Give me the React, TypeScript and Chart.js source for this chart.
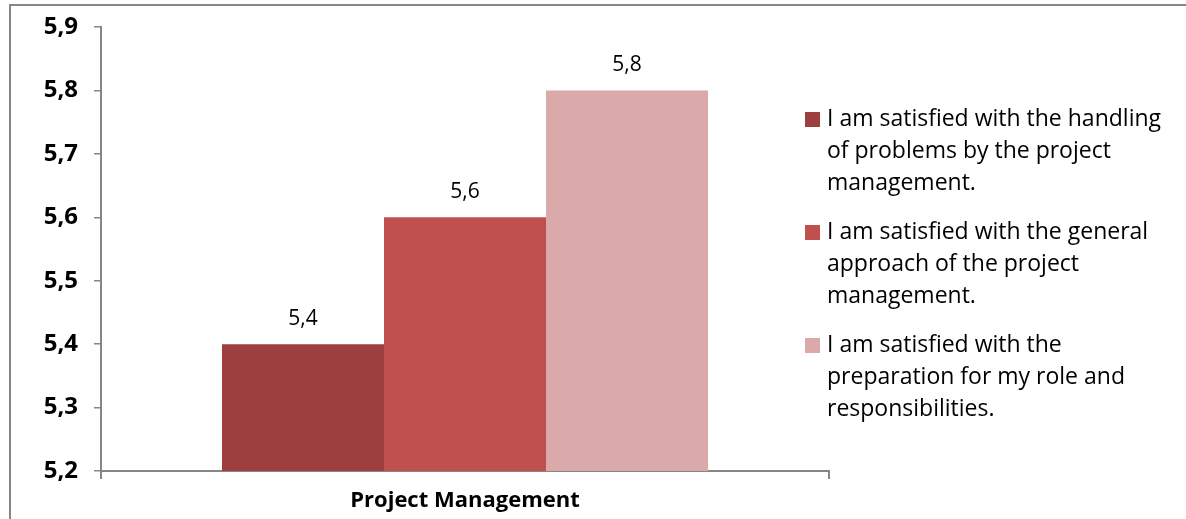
import React, { useEffect, useRef } from "react";
import { Chart, registerables } from "chart.js";

Chart.register(...registerables);

const categories = ["Project Management"];
const seriesLabels = [
  "I am satisfied with the handling of problems by the project management.",
  "I am satisfied with the general approach of the project management.",
  "I am satisfied with the preparation for my role and responsibilities.",
];
const legendLines = [
  ["I am satisfied with the handling", "of problems by the project", "management."],
  ["I am satisfied with the general", "approach of the project", "management."],
  ["I am satisfied with the", "preparation for my role and", "responsibilities."],
];
const seriesValues = [[5.4], [5.6], [5.8]];
const seriesColors = ["#9E3F3F", "#C0504D", "#DAAAAB"];
const yTicks = [5.2, 5.3, 5.4, 5.5, 5.6, 5.7, 5.8, 5.9];

const FONT = "'Open Sans', 'Noto Sans', sans-serif";
const fmt = (v: number) => v.toFixed(1).replace(".", ",");

const framePlugin = {
  id: "frame",
  beforeDraw(chart: any) {
    const ctx = chart.ctx;
    ctx.save();
    ctx.fillStyle = "#ffffff";
    ctx.fillRect(0, 0, chart.width, chart.height);
    ctx.strokeStyle = "#868686";
    ctx.lineWidth = 2;
    ctx.beginPath();
    ctx.moveTo(10, chart.height + 10);
    ctx.lineTo(10, 5);
    ctx.lineTo(chart.width + 10, 5);
    ctx.stroke();
    ctx.restore();
  },
};

const valueLabelPlugin = {
  id: "valueLabels",
  afterDatasetsDraw(chart: any) {
    const ctx = chart.ctx;
    ctx.save();
    ctx.font = `21px ${FONT}`;
    ctx.fillStyle = "#000000";
    ctx.textAlign = "center";
    ctx.textBaseline = "middle";
    chart.data.datasets.forEach((ds: any, i: number) => {
      const meta = chart.getDatasetMeta(i);
      meta.data.forEach((bar: any, j: number) => {
        ctx.fillText(fmt(ds.data[j]), bar.x, bar.y - 25);
      });
    });
    ctx.restore();
  },
};

const legendPlugin = {
  id: "wrapLegend",
  afterDraw(chart: any) {
    const ctx = chart.ctx;
    ctx.save();
    ctx.font = `23px ${FONT}`;
    ctx.textBaseline = "middle";
    ctx.textAlign = "left";
    const x0 = 805;
    const yStart = 119;
    const groupGap = 113;
    const lineH = 32;
    chart.data.datasets.forEach((ds: any, i: number) => {
      const y = yStart + i * groupGap;
      ctx.fillStyle = ds.backgroundColor;
      ctx.fillRect(x0, y - 7, 15, 15);
      ctx.fillStyle = "#000000";
      legendLines[i].forEach((line, k) => {
        ctx.fillText(line, x0 + 22, y + k * lineH);
      });
    });
    ctx.restore();
  },
};

export default function App() {
  const ref = useRef<HTMLCanvasElement | null>(null);
  useEffect(() => {
    if (!ref.current) return;
    const chart = new Chart(ref.current, {
      type: "bar",
      data: {
        labels: categories,
        datasets: seriesValues.map((vals, i) => ({
          label: seriesLabels[i],
          data: vals,
          backgroundColor: seriesColors[i],
          borderWidth: 0,
          categoryPercentage: 486 / 728,
          barPercentage: 1,
        })),
      },
      options: {
        responsive: false,
        animation: false,
        layout: { autoPadding: false, padding: { top: 27, right: 357, bottom: 0, left: 0 } },
        plugins: {
          legend: { display: false },
          tooltip: { enabled: false },
          title: { display: false },
        },
        scales: {
          x: {
            offset: true,
            grid: {
              display: true,
              offset: true,
              drawOnChartArea: false,
              tickLength: 8,
              color: "#868686",
              lineWidth: 2,
            },
            border: { display: true, color: "#868686", width: 2 },
            ticks: {
              color: "#000000",
              font: { family: FONT, size: 22, weight: "bold" },
              padding: 9,
            },
            afterFit(scale: any) {
              scale.height = 48;
            },
          },
          y: {
            min: 5.2,
            max: 5.9,
            afterBuildTicks(scale: any) {
              scale.ticks = yTicks.map((v) => ({ value: v }));
            },
            grid: {
              display: true,
              drawOnChartArea: false,
              tickLength: 7,
              color: "#868686",
              lineWidth: 1.5,
            },
            border: { display: true, color: "#868686", width: 2 },
            ticks: {
              color: "#000000",
              font: { family: FONT, size: 24, weight: "bold" },
              padding: 16,
              callback: (v: any) => fmt(Number(v)),
            },
            afterFit(scale: any) {
              scale.width = 101;
              scale.paddingTop = 0;
              scale.paddingBottom = 0;
            },
          },
        },
      },
      plugins: [framePlugin, valueLabelPlugin, legendPlugin],
    });
    return () => chart.destroy();
  }, []);
  return (
    <div style={{ position: "fixed", left: 0, top: 0, width: 1186, height: 519 }}>
      <canvas ref={ref} width={1186} height={519} style={{ display: "block" }} />
    </div>
  );
}
